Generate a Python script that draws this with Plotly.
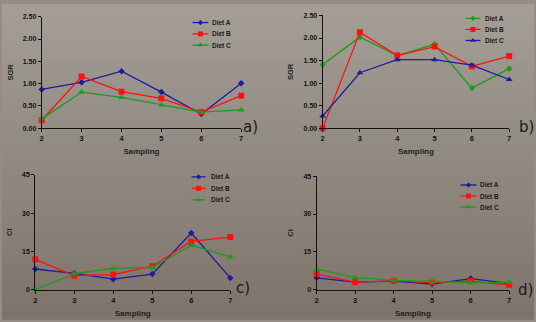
import plotly.graph_objects as go

W, H = 536, 322

sampling = [2, 3, 4, 5, 6, 7]

# Panel a) SGR
sgr_a_dietA = [0.87, 1.03, 1.28, 0.81, 0.32, 1.01]
sgr_a_dietB = [0.18, 1.16, 0.82, 0.67, 0.36, 0.73]
sgr_a_dietC = [0.21, 0.81, 0.69, 0.52, 0.36, 0.41]
# Panel b) SGR
sgr_b_dietA = [1.41, 2.02, 1.61, 1.86, 0.89, 1.32]
sgr_b_dietB = [0.00, 2.13, 1.61, 1.81, 1.37, 1.60]
sgr_b_dietC = [0.27, 1.23, 1.52, 1.52, 1.40, 1.08]
# Panel c) CI
ci_c_dietA = [8.1, 6.4, 4.1, 6.1, 22.2, 4.6]
ci_c_dietB = [11.9, 5.5, 5.9, 9.2, 18.9, 20.6]
ci_c_dietC = [0.0, 6.3, 8.4, 8.7, 17.4, 12.9]
# Panel d) CI
ci_d_dietA = [4.7, 3.0, 3.4, 2.2, 4.4, 2.5]
ci_d_dietB = [6.2, 3.0, 3.5, 2.8, 3.4, 1.9]
ci_d_dietC = [8.2, 4.8, 3.8, 3.1, 2.7, 3.0]

series_names = ["Diet A", "Diet B", "Diet C"]
sgr_ticks = [0, 0.5, 1.0, 1.5, 2.0, 2.5]
ci_ticks = [0, 15, 30, 45]
panel_labels = ["a)", "b)", "c)", "d)"]

BLUE = "#1c1c9c"
RED = "#ff1010"
GREEN = "#1f9a1f"

def px_x(a, b):
    return [a / W, b / W]

def px_y(top, bottom):
    return [1 - bottom / H, 1 - top / H]

panels = [
    dict(data=[sgr_a_dietA, sgr_a_dietB, sgr_a_dietC],
         styles=[(BLUE, "diamond", 5), (RED, "square", 6), (GREEN, "triangle-up", 6)],
         xd=px_x(40, 241), yd=px_y(13, 127), yr=[0, 2.5], ticks=sgr_ticks, fmt=".2f", ytitle="SGR",
         leg=(192, 208, 210, 19, 11.5), lab=(250, 126)),
    dict(data=[sgr_b_dietA, sgr_b_dietB, sgr_b_dietC],
         styles=[(GREEN, "diamond", 5), (RED, "square", 6), (BLUE, "triangle-up", 6)],
         xd=px_x(323, 511), yd=px_y(11.7, 127), yr=[0, 2.5], ticks=sgr_ticks, fmt=".2f", ytitle="SGR",
         leg=(467, 482, 485, 14.7, 11.3), lab=(528, 126)),
    dict(data=[ci_c_dietA, ci_c_dietB, ci_c_dietC],
         styles=[(BLUE, "diamond", 5), (RED, "square", 6), (GREEN, "triangle-up", 6)],
         xd=px_x(33.5, 230), yd=px_y(174.7, 292), yr=[0, 45], ticks=ci_ticks, fmt="d", ytitle="CI",
         leg=(191, 205, 209, 176.7, 11.7), lab=(243, 290)),
    dict(data=[ci_d_dietA, ci_d_dietB, ci_d_dietC],
         styles=[(BLUE, "diamond", 5), (RED, "square", 6), (GREEN, "triangle-up", 6)],
         xd=px_x(317, 511), yd=px_y(176, 292), yr=[0, 45], ticks=ci_ticks, fmt="d", ytitle="CI",
         leg=(462, 478, 480, 185, 11.3), lab=(527, 292)),
]

fig = go.Figure()

FONT = "Liberation Sans, Arial, sans-serif"
tickfont = dict(family=FONT, size=7, color="#111111", weight="bold")

layout = dict(
    width=W, height=H, margin=dict(l=0, r=0, t=0, b=0),
    paper_bgcolor="#958c85", plot_bgcolor="rgba(0,0,0,0)",
    showlegend=False, shapes=[], annotations=[],
)

# smooth vertical gradient backdrop (photo-like)
top_rgb = (164, 158, 150)
bot_rgb = (126, 116, 108)
n_bands = 40
for i in range(n_bands):
    t = i / (n_bands - 1)
    c = tuple(round(a + (b - a) * t) for a, b in zip(top_rgb, bot_rgb))
    layout["shapes"].append(dict(type="rect", xref="paper", yref="paper", x0=0, x1=1,
                                 y0=1 - (i + 1) / n_bands - 0.002, y1=1 - i / n_bands,
                                 fillcolor="rgb(%d,%d,%d)" % c, line=dict(width=0), layer="below"))

for i, p in enumerate(panels):
    k = "" if i == 0 else str(i + 1)
    for name, vals, (col, sym, sz) in zip(series_names, p["data"], p["styles"]):
        fig.add_trace(go.Scatter(x=sampling, y=vals, name=name, mode="lines+markers",
                                 line=dict(color=col, width=1.3),
                                 marker=dict(symbol=sym, size=sz, color=col),
                                 xaxis="x" + k, yaxis="y" + k, cliponaxis=False))
    layout["xaxis" + k] = dict(domain=p["xd"], range=[2, 7], anchor="y" + k,
                               tickvals=sampling, showline=True, linecolor="#111111", linewidth=1,
                               ticks="outside", ticklen=3, tickcolor="#111111", showgrid=False,
                               zeroline=False, tickfont=dict(tickfont, size=7.5),
                               title=dict(text="<b>Sampling</b>", standoff=6,
                                          font=dict(family=FONT, size=8, color="#222222")))
    layout["yaxis" + k] = dict(domain=p["yd"], range=p["yr"], anchor="x" + k,
                               tickvals=p["ticks"], tickformat=p["fmt"], showline=True,
                               linecolor="#111111", linewidth=1, ticks="outside", ticklen=3,
                               tickcolor="#111111", showgrid=False, zeroline=False,
                               tickfont=tickfont,
                               title=dict(text="<b>%s</b>" % p["ytitle"], standoff=8,
                                          font=dict(family=FONT, size=7.5, color="#222222")))
    layout["annotations"].append(dict(text=panel_labels[i], xref="paper", yref="paper",
                                      x=p["lab"][0] / W, y=1 - p["lab"][1] / H,
                                      showarrow=False, xanchor="center", yanchor="middle",
                                      font=dict(family="DejaVu Sans, sans-serif", size=15, color="#1a1a1a")))

# manual compact legends drawn on a full-figure overlay axis (pixel units)
for i, p in enumerate(panels):
    x0, x1, xt, y0, dy = p["leg"]
    for j, (name, (col, sym, sz)) in enumerate(zip(series_names, p["styles"])):
        yy = y0 + j * dy
        fig.add_trace(go.Scatter(x=[x0, x1], y=[yy, yy], mode="lines",
                                 line=dict(color=col, width=1.3),
                                 xaxis="x5", yaxis="y5", hoverinfo="skip", showlegend=False))
        fig.add_trace(go.Scatter(x=[(x0 + x1) / 2], y=[yy], mode="markers",
                                 marker=dict(symbol=sym, size=sz - 1, color=col),
                                 xaxis="x5", yaxis="y5", hoverinfo="skip", showlegend=False))
        layout["annotations"].append(dict(text="<b>%s</b>" % name, xref="x5", yref="y5",
                                          x=xt, y=yy, showarrow=False, xanchor="left",
                                          yanchor="middle",
                                          font=dict(family=FONT, size=6.5, color="#1a1a1a")))

layout["xaxis5"] = dict(domain=[0, 1], range=[0, W], visible=False, anchor="y5", fixedrange=True)
layout["yaxis5"] = dict(domain=[0, 1], range=[H, 0], visible=False, anchor="x5", fixedrange=True)

fig.update_layout(**layout)
fig.write_html("out.html", config={"displayModeBar": False},
               post_script="document.body.style.margin='0';document.body.style.padding='0';")
